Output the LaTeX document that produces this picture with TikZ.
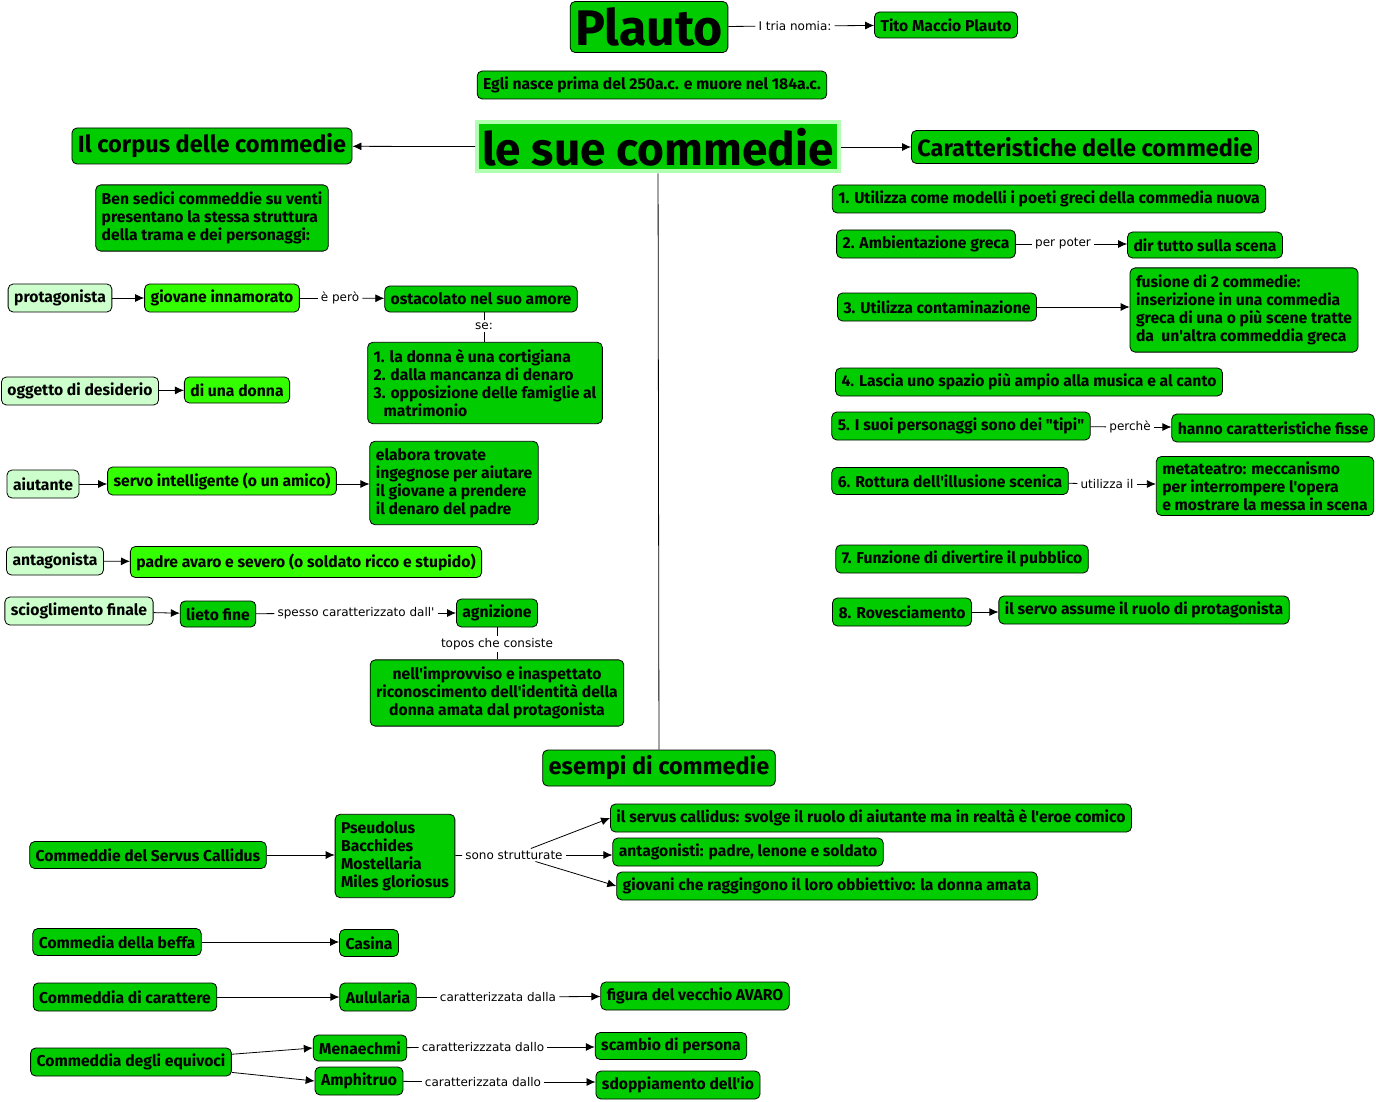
\documentclass[tikz,border=0pt]{standalone}
\usepackage{fontspec}
\setmainfont{Fira Sans}[Ligatures=TeXOff]
\newfontfamily\linkfont{DejaVu Sans}[Ligatures=TeXOff]
\usetikzlibrary{arrows.meta,positioning}
\definecolor{mapgreen}{RGB}{0,204,0}
\definecolor{palegreen}{RGB}{204,255,204}
\definecolor{limegreen}{RGB}{51,255,0}
\definecolor{halogreen}{RGB}{178,255,178}
\tikzset{
  concept/.style={draw,rounded corners=5pt,fill=mapgreen,line width=0.8pt,
    inner xsep=6pt,inner ysep=4pt,minimum height=28pt,
    font=\bfseries\fontsize{15.7}{18}\selectfont},
  role/.style={concept,fill=palegreen},
  lively/.style={concept,fill=limegreen},
  block/.style={concept,inner ysep=7pt},
  heading/.style={concept,minimum height=36pt,font=\bfseries\fontsize{23.5}{26}\selectfont},
  title/.style={concept,inner xsep=5pt,inner ysep=1pt,font=\bfseries\fontsize{46}{50}\selectfont},
  linkword/.style={font=\linkfont\fontsize{12}{14}\selectfont,inner xsep=3pt,inner ysep=2pt},
  flow/.style={-{Latex[length=9pt,width=8pt]},line width=0.8pt},
  association/.style={line width=0.8pt}
}

\begin{document}
\begin{tikzpicture}[x=1pt,y=-1pt]
  \useasboundingbox (0,0) rectangle (1376,1102);
  \node[title,minimum height=51pt,font=\bfseries\fontsize{50}{52}\selectfont] (plauto) at (649,27) {Plauto};
  \node[concept,minimum height=26pt] (tito) at (946,25) {Tito Maccio Plauto};
  \node[linkword] (nomia) at (795,26) {I tria nomia:};
  \node[concept] (nascita) at (652,85) {Egli nasce prima del 250a.c. e muore nel 184a.c.};
  \node[title,draw=halogreen,line width=4pt,rounded corners=0pt,minimum height=49pt] (commedie) at (658,147) {le sue commedie};
  \node[heading] (corpus) at (212,146) {Il corpus delle commedie};
  \node[heading,minimum height=33pt] (caratt) at (1085,147) {Caratteristiche delle commedie};
  \node[heading] (esempi) at (659,768) {esempi di commedie};

  \node[block,align=left] (sedici) at (212,218) {Ben sedici commeddie su venti\\presentano la stessa struttura\\della trama e dei personaggi:};
  \node[role] (protag) at (60,298) {protagonista};
  \node[lively] (giovane) at (222,298) {giovane innamorato};
  \node[linkword] (pero) at (340,298) {è però};
  \node[concept,minimum height=26pt] (ostacolo) at (481,299) {ostacolato nel suo amore};
  \node[linkword] (se) at (484,326) {se:};
  \node[block,align=left] (ostacoli) at (485,383) {1. la donna è una cortigiana\\2. dalla mancanza di denaro\\3. opposizione delle famiglie al\\\hspace*{10pt}matrimonio};
  \node[role] (oggetto) at (80,391) {oggetto di desiderio};
  \node[lively,minimum height=26pt] (donna) at (237,390) {di una donna};
  \node[role] (aiutante) at (43,484) {aiutante};
  \node[lively] (servo) at (222,481) {servo intelligente (o un amico)};
  \node[block,align=left] (trovate) at (454,483) {elabora trovate\\ingegnose per aiutare\\il giovane a prendere\\il denaro del padre};
  \node[role] (antag) at (55,561) {antagonista};
  \node[lively,minimum height=31pt] (padre) at (306,562) {padre avaro e severo (o soldato ricco e stupido)};
  \node[role] (scioglim) at (79,611) {scioglimento finale};
  \node[concept,minimum height=26pt] (lieto) at (218,614) {lieto fine};
  \node[linkword] (spesso) at (356,613) {spesso caratterizzato dall'};
  \node[concept] (agnizione) at (497,613) {agnizione};
  \node[linkword] (topos) at (497,644) {topos che consiste};
  \node[block,align=center] (riconosc) at (497,693) {nell'improvviso e inaspettato\\riconoscimento dell'identità della\\donna amata dal protagonista};

  \node[concept] (c1) at (1049,199) {1. Utilizza come modelli i poeti greci della commedia nuova};
  \node[concept] (c2) at (926,244) {2. Ambientazione greca};
  \node[linkword] (poter) at (1063,244) {per poter};
  \node[concept,minimum height=26pt] (c2b) at (1205,245) {dir tutto sulla scena};
  \node[concept] (c3) at (937,307) {3. Utilizza contaminazione};
  \node[block,align=left] (c3b) at (1244,310) {fusione di 2 commedie:\\inserizione in una commedia\\greca di una o più scene tratte\\da\ \ un'altra commeddia greca};
  \node[concept] (c4) at (1029,382) {4. Lascia uno spazio più ampio alla musica e al canto};
  \node[concept] (c5) at (961,426) {5. I suoi personaggi sono dei "tipi"};
  \node[linkword] (perche) at (1130,427) {perchè};
  \node[concept] (c5b) at (1273,428) {hanno caratteristiche fisse};
  \node[concept,minimum height=27pt] (c6) at (950,481) {6. Rottura dell'illusione scenica};
  \node[linkword] (utilizza) at (1107,484) {utilizza il};
  \node[block,align=left,inner ysep=5pt] (c6b) at (1265,486) {metateatro: meccanismo\\per interrompere l'opera\\e mostrare la messa in scena};
  \node[concept] (c7) at (962,559) {7. Funzione di divertire il pubblico};
  \node[concept] (c8) at (902,612) {8. Rovesciamento};
  \node[concept] (c8b) at (1144,610) {il servo assume il ruolo di protagonista};

  \node[concept,minimum height=27pt] (callidus) at (148,855) {Commeddie del Servus Callidus};
  \node[block,align=left] (titoli) at (395,856) {Pseudolus\\Bacchides\\Mostellaria\\Miles gloriosus};
  \node[linkword] (strutt) at (514,855) {sono strutturate};
  \node[concept] (eroe) at (871,818) {il servus callidus: svolge il ruolo di aiutante ma in realtà è l'eroe comico};
  \node[concept] (antagonisti) at (748,852) {antagonisti: padre, lenone e soldato};
  \node[concept] (giovani) at (827,886) {giovani che raggingono il loro obbiettivo: la donna amata};
  \node[concept,minimum height=27pt] (beffa) at (117,942) {Commedia della beffa};
  \node[concept,minimum height=27pt] (casina) at (369,943) {Casina};
  \node[concept] (carattere) at (125,997) {Commeddia di carattere};
  \node[concept] (aulularia) at (378,997) {Aulularia};
  \node[linkword] (dalla) at (498,997) {caratterizzata dalla};
  \node[concept] (avaro) at (695,996) {figura del vecchio AVARO};
  \node[concept] (equivoci) at (131,1062) {Commeddia degli equivoci};
  \node[concept,minimum height=26pt] (menaechmi) at (360,1048) {Menaechmi};
  \node[concept] (amphitruo) at (359,1081) {Amphitruo};
  \node[linkword] (dallo1) at (483,1047) {caratterizzzata dallo};
  \node[concept,minimum height=27pt] (scambio) at (671,1046) {scambio di persona};
  \node[linkword] (dallo2) at (483,1082) {caratterizzata dallo};
  \node[concept] (sdoppia) at (678,1085) {sdoppiamento dell'io};

  \draw[association] (plauto) -- (nomia);
  \draw[flow] (nomia) -- (tito);
  \draw[flow] (commedie) -- (corpus);
  \draw[flow] (commedie) -- (caratt);
  \draw[association] (commedie) -- (esempi);

  \draw[flow] (protag) -- (giovane);
  \draw[association] (giovane) -- (pero);
  \draw[flow] (pero) -- (ostacolo);
  \draw[association] (se) -- (se |- ostacolo.south);
  \draw[association] (se) -- (se |- ostacoli.north);
  \draw[flow] (oggetto) -- (donna);
  \draw[flow] (aiutante) -- (aiutante -| servo.west);
  \draw[flow] (servo.east |- aiutante) -- (servo.east |- aiutante -| trovate.west);
  \draw[flow] (antag) -- (padre);
  \draw[flow] (scioglim) -- (lieto);
  \draw[association] (lieto) -- (spesso);
  \draw[flow] (spesso) -- (agnizione);
  \draw[association] (agnizione) -- (topos);
  \draw[association] (topos) -- (riconosc);

  \draw[association] (c2) -- (poter);
  \draw[flow] (poter) -- (poter -| c2b.west);
  \draw[flow] (c3) -- (c3 -| c3b.west);
  \draw[association] (c5) -- (perche);
  \draw[flow] (perche) -- (perche -| c5b.west);
  \draw[association] (c6) -- (utilizza);
  \draw[flow] (utilizza) -- (utilizza -| c6b.west);
  \draw[flow] (c8) -- (c8 -| c8b.west);

  \draw[flow] (callidus) -- (callidus -| titoli.west);
  \draw[association] (titoli) -- (strutt);
  \draw[flow] (strutt) -- (eroe.west);
  \draw[flow] (strutt) -- (strutt -| antagonisti.west);
  \draw[flow] (strutt) -- (giovani.west);
  \draw[flow] (beffa) -- (beffa -| casina.west);
  \draw[flow] (carattere) -- (aulularia);
  \draw[association] (aulularia) -- (dalla);
  \draw[flow] (dalla) -- (avaro);
  \draw[flow] (equivoci) -- (menaechmi.west);
  \draw[flow] (equivoci) -- (amphitruo.west);
  \draw[association] (menaechmi) -- (dallo1);
  \draw[flow] (dallo1) -- (dallo1 -| scambio.west);
  \draw[association] (amphitruo) -- (dallo2);
  \draw[flow] (dallo2) -- (dallo2 -| sdoppia.west);
\end{tikzpicture}
\end{document}
